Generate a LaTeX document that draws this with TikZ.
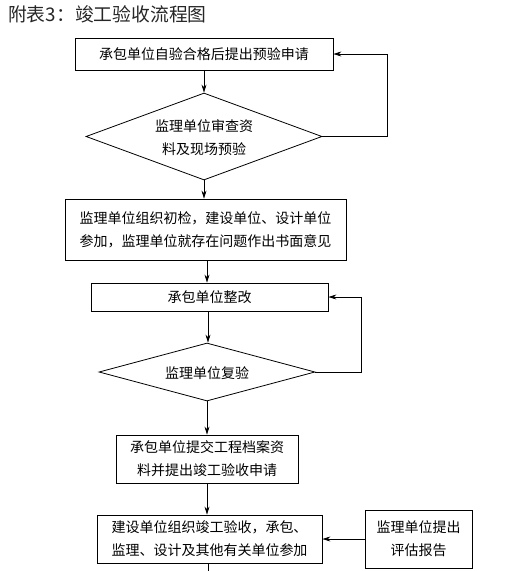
\documentclass[tikz,border=0pt]{standalone}
\usepackage{fontspec}
\setmainfont{Noto Sans CJK SC}
\usetikzlibrary{shapes.geometric,arrows.meta}
\begin{document}
\begin{tikzpicture}[x=1pt,y=-1pt,
  every node/.style={font=\fontsize{14pt}{23pt}\selectfont, inner sep=0pt},
  box/.style={draw, line width=0.8pt, align=center},
  dia/.style={draw, diamond, line width=0.8pt, inner sep=0pt},
  arr/.style={line width=0.8pt, -{Stealth[length=8pt,width=5pt]}},
  ln/.style={line width=0.8pt}]
\useasboundingbox (0,0) rectangle (527,571);
\node[anchor=base west, font=\fontsize{18.8pt}{20pt}\selectfont, text=black!85] (title) at (8,21.5) {附表3：竣工验收流程图};

\node[box, minimum width=258pt, minimum height=32pt] (b1) at (204,54) {承包单位自验合格后提出预验申请};
\node[dia, minimum width=236pt, minimum height=87pt] (d1) at (204,136.5) {};
\node[align=center] (d1t) at (204,138) {监理单位审查资\\料及现场预验};
\node[box, minimum width=281pt, minimum height=61pt] (b2) at (205.5,229.5) {监理单位组织初检，建设单位、设计单位\\参加，监理单位就存在问题作出书面意见};
\node[box, minimum width=237pt, minimum height=28pt] (b3) at (209.5,297) {承包单位整改};
\node[dia, minimum width=216pt, minimum height=58pt] (d2) at (207,372) {};
\node (d2t) at (207,373) {监理单位复验};
\node[box, minimum width=182pt, minimum height=48pt] (b4) at (207,459) {承包单位提交工程档案资\\料并提出竣工验收申请};
\node[box, minimum width=225pt, minimum height=48pt] (b5) at (209.5,539) {建设单位组织竣工验收，承包、\\监理、设计及其他有关单位参加};
\node[box, minimum width=107pt, minimum height=58pt] (b6) at (418.5,539) {监理单位提出\\评估报告};

\coordinate (fb1) at (387,136.5);
\coordinate (fb2) at (361,372);
\coordinate (bot) at (208,571);

\draw[arr] (b1.south) -- (b1.south |- d1.north);
\draw[arr] (d1.south) -- (d1.south |- b2.north);
\draw[arr] (d1.east) -- (fb1) |- (b1.east);
\draw[arr] (207,260) coordinate (b2s) -- (b2s |- b3.north);
\draw[arr] (208,311) coordinate (b3s) -- (b3s |- d2.north);
\draw[arr] (d2.east) -- (fb2) |- (b3.east);
\draw[arr] (d2.south) -- (d2.south |- b4.north);
\draw[arr] (b4.south) -- (b4.south |- b5.north);
\draw[arr] (b6.west) -- (b5.east);
\draw[ln] (bot |- b5.south) -- (bot);
\end{tikzpicture}
\end{document}
